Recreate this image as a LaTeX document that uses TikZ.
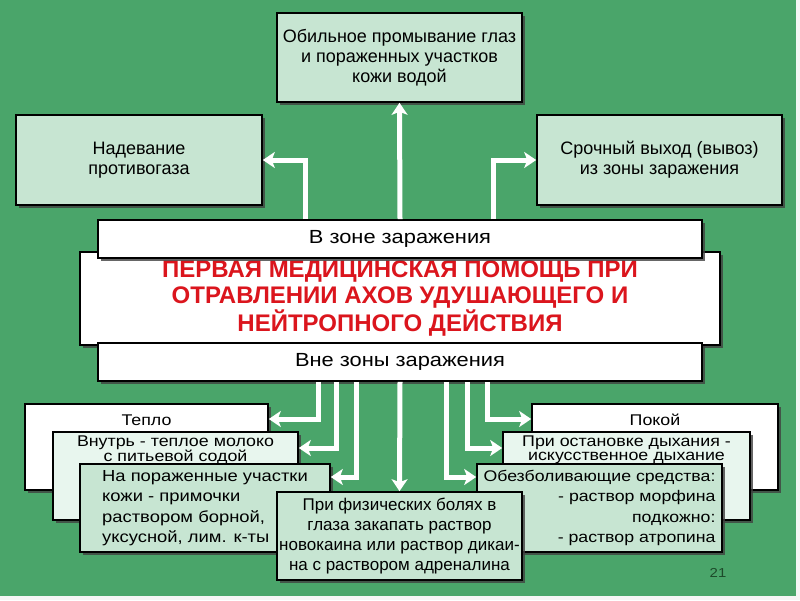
\documentclass[tikz,border=0pt]{standalone}
\usepackage{fontspec}
\setmainfont{Liberation Sans}[FakeStretch=1.15]
\newfontfamily\narrowfont{Liberation Sans}[FakeStretch=1.0]
\newfontfamily\titlefont{Liberation Sans Bold}[FakeStretch=1.0]
\usetikzlibrary{arrows.meta, shadows, calc}
\definecolor{bggreen}{HTML}{4AA56A}
\definecolor{boxgreen}{HTML}{C7E5D2}
\definecolor{boxmint}{HTML}{E8F6EE}
\definecolor{titlered}{HTML}{DB151D}
\definecolor{pagegreen}{HTML}{1D4A2A}
\tikzset{>={Stealth[width=16pt, length=12pt, inset=3pt]}}
\tikzset{
  box/.style={draw=black, line width=1.6pt, fill=boxgreen, inner sep=0pt, align=center,
    drop shadow={shadow xshift=2.5pt, shadow yshift=-2.5pt, fill=black!75, opacity=0.8}},
  flow/.style={->, draw=white, line width=5pt},
  boxtext/.style={inner sep=0pt, font=\fontsize{15.5}{20}\selectfont},
  tighttext/.style={inner sep=0pt, align=center, font=\fontsize{15.5}{14.5}\selectfont},
  toptext/.style={font=\narrowfont\fontsize{18}{20}\selectfont},
}

\begin{document}
\begin{tikzpicture}[x=1pt, y=-1pt]
    \fill[white!92!gray] (0,0) rectangle (800,600);
    \fill[bggreen] (0,0) rectangle (796,596);

    % upper part
    \node[box, toptext, minimum width=245pt, minimum height=89pt] (wash) at (399.5,57.5) {Обильное промывание глаз\\и пораженных участков\\кожи водой};
    \node[box, toptext, minimum width=246pt, minimum height=90pt] (mask) at (139,160) {Надевание\\противогаза};
    \node[box, toptext, minimum width=245pt, minimum height=90pt] (exit) at (659.5,160) {Срочный выход (вывоз)\\из зоны заражения};

    % central block
    \node[box, fill=white, minimum width=640pt, minimum height=93pt, font=\titlefont\fontsize{24}{26}\selectfont, text=titlered] (title) at (400,298.5) {ПЕРВАЯ МЕДИЦИНСКАЯ ПОМОЩЬ ПРИ\\ОТРАВЛЕНИИ АХОВ УДУШАЮЩЕГО И\\НЕЙТРОПНОГО ДЕЙСТВИЯ};
    \node[box, fill=white, minimum width=604pt, minimum height=38pt, font=\fontsize{19}{20}\selectfont] (inzone) at (400,239) {В зоне заражения};
    \node[box, fill=white, minimum width=604pt, minimum height=38pt, font=\fontsize{19}{20}\selectfont] (outzone) at (400,362) {Вне зоны заражения};

    % lower left
    \node[box, fill=white, minimum width=243pt, minimum height=86pt] (warm) at (146.5,447) {};
    \node[boxtext, anchor=north] (warmtxt) at ($(warm.north)+(0,11)$) {Тепло};
    \node[box, fill=boxmint, minimum width=245pt, minimum height=88pt] (milk) at (175.5,476) {};
    \node[tighttext, anchor=north] (milktxt) at ($(milk.north)+(0,4)$) {Внутрь - теплое молоко\\с питьевой содой};
    \node[box, minimum width=250pt, minimum height=88pt, align=left, font=\fontsize{16}{20.5}\selectfont] (skin) at (205,508) {На пораженные участки\\кожи - примочки\\раствором борной,\\уксусной, лим. к-ты};

    % lower right
    \node[box, fill=white, minimum width=246pt, minimum height=86pt] (rest) at (655,447) {};
    \node[boxtext, anchor=north] (resttxt) at ($(rest.north)+(0,11)$) {Покой};
    \node[box, fill=boxmint, minimum width=247pt, minimum height=88pt] (breath) at (626.5,476) {};
    \node[tighttext, anchor=north] (breathtxt) at ($(breath.north)+(0,4)$) {При остановке дыхания -\\искусственное дыхание};
    \node[box, minimum width=245pt, minimum height=88pt, align=right, font=\fontsize{15.4}{20.5}\selectfont] (pain) at (599.5,508) {Обезболивающие средства:\\- раствор морфина\\подкожно:\\- раствор атропина};

    % lower middle
    \node[box, minimum width=245pt, minimum height=88pt, font=\narrowfont\fontsize{17}{20}\selectfont] (eyes) at (399.5,536) {При физических болях в\\глаза закапать раствор\\новокаина или раствор дикаи-\\на с раствором адреналина};

    \node[font=\fontsize{13}{14}\selectfont, text=pagegreen] (page) at (718,573) {21};

    % arrows up
    \draw[flow] (inzone.north) -- (wash.south);
    \draw[flow] (inzone.north -| 305,0) |- (mask.east);
    \draw[flow] (inzone.north -| 493,0) |- (exit.west);

    % arrows down
    \draw[flow] (outzone.south -| 318,0) |- (warm.east |- 0,419);
    \draw[flow] (outzone.south -| 336,0) |- (milk.east |- 0,448);
    \draw[flow] (outzone.south -| 356,0) |- (skin.east |- 0,477);
    \draw[flow] (outzone.south) -- (eyes.north);
    \draw[flow] (outzone.south -| 446,0) |- (pain.west |- 0,477);
    \draw[flow] (outzone.south -| 467,0) |- (breath.west |- 0,448);
    \draw[flow] (outzone.south -| 487,0) |- (rest.west |- 0,419);
\end{tikzpicture}
\end{document}
